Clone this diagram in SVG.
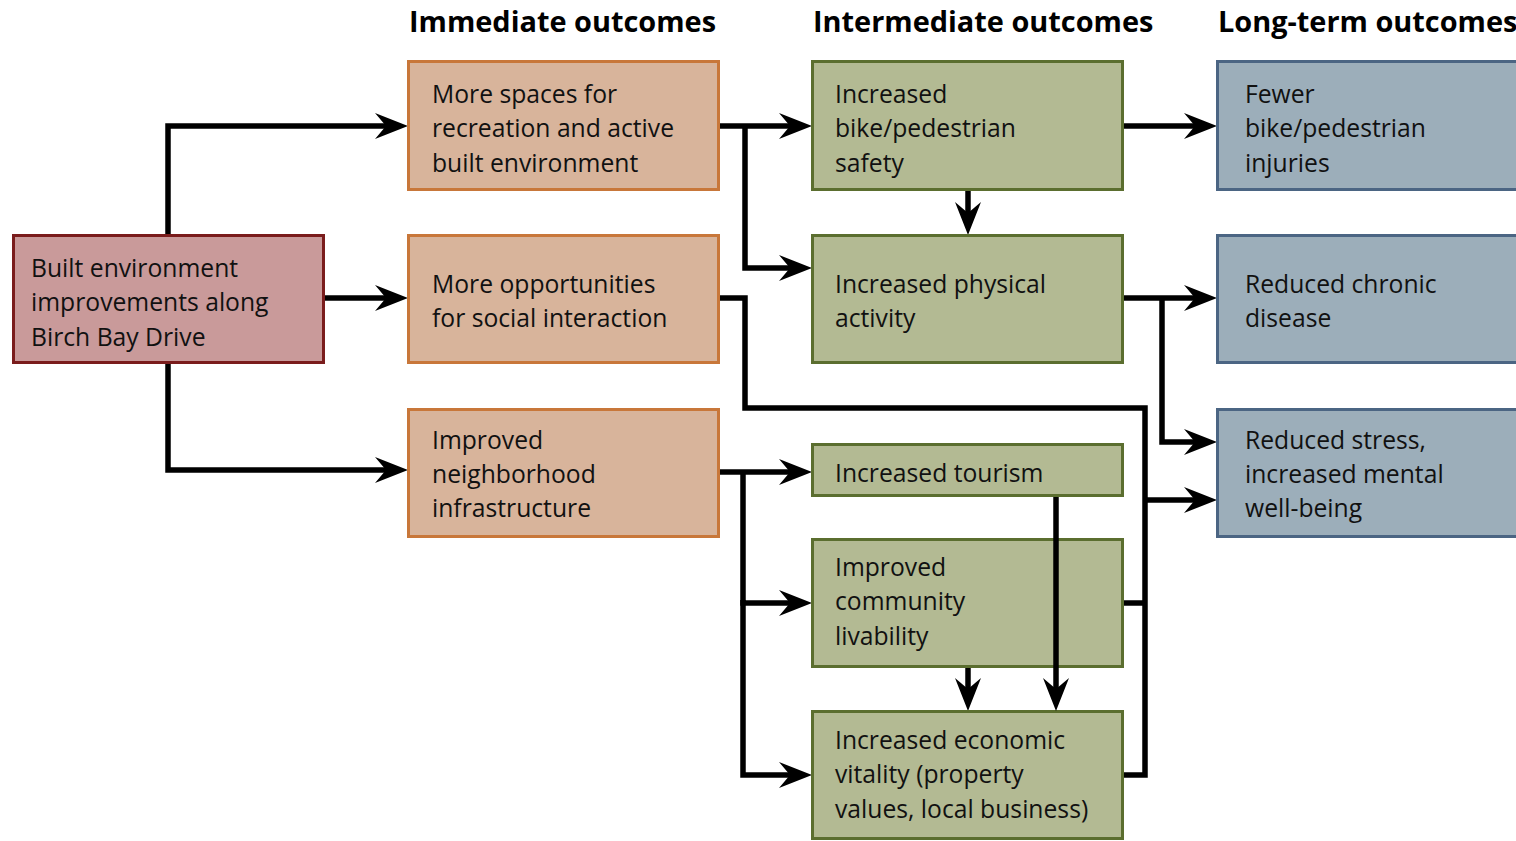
<svg xmlns="http://www.w3.org/2000/svg" width="1516" height="841" viewBox="0 0 1516 841">
<style>
.hdr{font-family:"Open Sans","Noto Sans",sans-serif;font-weight:bold;font-size:28.9px;fill:#000}
.t{font-family:"Open Sans","Noto Sans",sans-serif;font-size:24.7px;fill:#111}
.b0{fill:#c99a9a;stroke:#7a1c1c;stroke-width:3}
.b1{fill:#d8b49b;stroke:#c8773a;stroke-width:3}
.b2{fill:#b3ba93;stroke:#5b6e2f;stroke-width:3}
.b3{fill:#9caeba;stroke:#4b6583;stroke-width:3}
.c{fill:none;stroke:#000;stroke-width:5.5;stroke-linejoin:miter}
.a{marker-end:url(#ah)}
</style>
<defs>
<marker id="ah" markerUnits="userSpaceOnUse" markerWidth="40" markerHeight="40" refX="11" refY="0" orient="auto" viewBox="-2 -15 40 30" overflow="visible">
<path d="M0,-13 L33,0 L0,13 L11,0 Z" fill="#000"/>
</marker>
</defs>
<rect width="1516" height="841" fill="#fff"/>
<g id="headers">
<text class="hdr" x="409" y="32">Immediate outcomes</text>
<text class="hdr" x="813" y="32">Intermediate outcomes</text>
<text class="hdr" x="1218" y="32">Long-term outcomes</text>
</g>
<g id="connectors">
<path class="c a" d="M168,235 V126 H386"/>
<path class="c a" d="M324,298 H386"/>
<path class="c a" d="M168,363 V470 H386"/>
<path class="c a" d="M719,126 H790"/>
<path class="c a" d="M745,126 V268 H790"/>
<path class="c" d="M719,298 H745 V408 H1145 V775 H1123"/>
<path class="c" d="M1123,603 H1145"/>
<path class="c a" d="M1145,500 H1195"/>
<path class="c a" d="M1123,126 H1195"/>
<path class="c a" d="M968,190 V213"/>
<path class="c a" d="M1123,298 H1195"/>
<path class="c a" d="M1162,298 V442 H1195"/>
<path class="c a" d="M719,472 H790"/>
<path class="c a" d="M743,472 V603 H790"/>
<path class="c a" d="M743,600 V775 H790"/>
<path class="c a" d="M968,667 V689"/>
</g>
<g id="n0">
<rect class="b0" x="13.5" y="235.5" width="310" height="127"/>
<text class="t" x="31"><tspan x="31" y="277">Built environment</tspan><tspan x="31" y="311">improvements along</tspan><tspan x="31" y="346">Birch Bay Drive</tspan></text>
</g>
<g id="n1">
<rect class="b1" x="408.5" y="61.5" width="310" height="128"/>
<text class="t"><tspan x="432" y="103">More spaces for</tspan><tspan x="432" y="137">recreation and active</tspan><tspan x="432" y="172">built environment</tspan></text>
</g>
<g id="n2">
<rect class="b1" x="408.5" y="235.5" width="310" height="127"/>
<text class="t"><tspan x="432" y="293">More opportunities</tspan><tspan x="432" y="327">for social interaction</tspan></text>
</g>
<g id="n3">
<rect class="b1" x="408.5" y="409.5" width="310" height="127"/>
<text class="t"><tspan x="432" y="449">Improved</tspan><tspan x="432" y="483">neighborhood</tspan><tspan x="432" y="517">infrastructure</tspan></text>
</g>
<g id="n4">
<rect class="b2" x="812.5" y="61.5" width="310" height="128"/>
<text class="t"><tspan x="835" y="103">Increased</tspan><tspan x="835" y="137">bike/pedestrian</tspan><tspan x="835" y="172">safety</tspan></text>
</g>
<g id="n5">
<rect class="b2" x="812.5" y="235.5" width="310" height="127"/>
<text class="t"><tspan x="835" y="293">Increased physical</tspan><tspan x="835" y="327">activity</tspan></text>
</g>
<g id="n6">
<rect class="b2" x="812.5" y="444.5" width="310" height="51"/>
<text class="t" x="835" y="482">Increased tourism</text>
</g>
<g id="n7">
<rect class="b2" x="812.5" y="539.5" width="310" height="127"/>
<text class="t"><tspan x="835" y="576">Improved</tspan><tspan x="835" y="610">community</tspan><tspan x="835" y="645">livability</tspan></text>
</g>
<g id="n8">
<rect class="b2" x="812.5" y="711.5" width="310" height="127"/>
<text class="t"><tspan x="835" y="749">Increased economic</tspan><tspan x="835" y="783">vitality (property</tspan><tspan x="835" y="818">values, local business)</tspan></text>
</g>
<g id="tourismlink">
<path class="c a" d="M1056,497 V689"/>
</g>
<g id="n9">
<rect class="b3" x="1217.5" y="61.5" width="320" height="128"/>
<text class="t"><tspan x="1245" y="103">Fewer</tspan><tspan x="1245" y="137">bike/pedestrian</tspan><tspan x="1245" y="172">injuries</tspan></text>
</g>
<g id="n10">
<rect class="b3" x="1217.5" y="235.5" width="320" height="127"/>
<text class="t"><tspan x="1245" y="293">Reduced chronic</tspan><tspan x="1245" y="327">disease</tspan></text>
</g>
<g id="n11">
<rect class="b3" x="1217.5" y="409.5" width="320" height="127"/>
<text class="t"><tspan x="1245" y="449">Reduced stress,</tspan><tspan x="1245" y="483">increased mental</tspan><tspan x="1245" y="517">well-being</tspan></text>
</g>
</svg>
